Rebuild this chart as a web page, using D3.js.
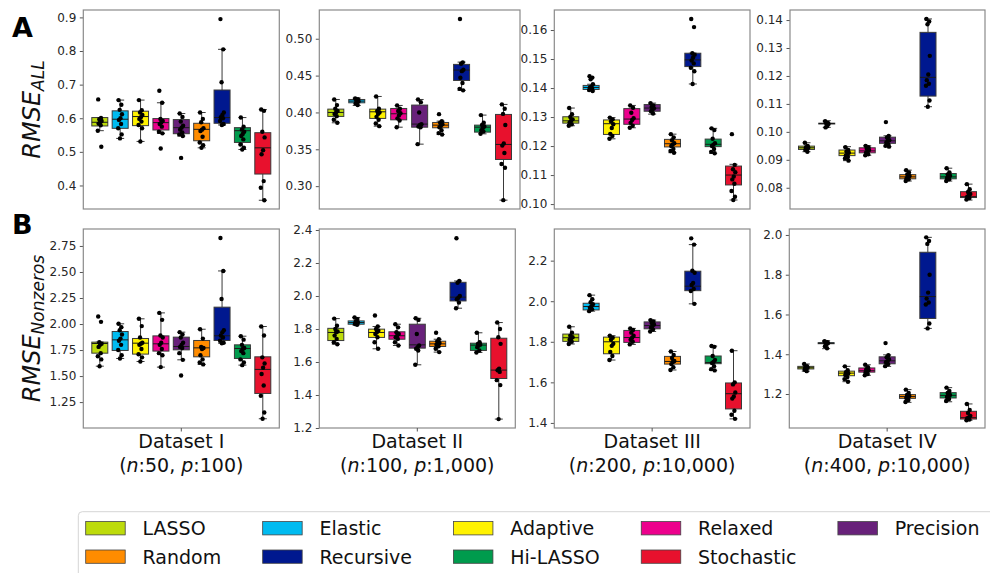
<!DOCTYPE html>
<html><head><meta charset="utf-8">
<script src="https://cdn.jsdelivr.net/npm/d3@7"></script>
<style>body{margin:0;background:#fff;} svg{display:block;font-family:"DejaVu Sans",sans-serif;}</style>
</head><body><svg id="c" width="990" height="573"></svg>
<script>
const methods = ["LASSO","Elastic","Adaptive","Relaxed","Precision","Random","Recursive","Hi-LASSO","Stochastic"];
const colors  = ["#bddb0b","#00bbf0","#fff200","#ec008c","#68217a","#ff8c00","#00188f","#009b4d","#e8112d"];

// box stats per method: [low whisker, q1, median, q3, high whisker]
const boxA1 = [[0.563,0.577,0.588,0.602,0.602],[0.540,0.570,0.597,0.622,0.654],[0.531,0.578,0.605,0.621,0.654],[0.555,0.565,0.587,0.599,0.646],[0.547,0.554,0.572,0.596,0.614],[0.512,0.533,0.567,0.585,0.617],[0.580,0.585,0.602,0.684,0.805],[0.507,0.528,0.563,0.572,0.602],[0.356,0.434,0.512,0.557,0.626]];
const ptsA1 = [[0.656,0.601,0.597,0.592,0.588,0.584,0.579,0.563,0.515],[0.654,0.640,0.625,0.612,0.600,0.595,0.583,0.570,0.552,0.540],[0.654,0.624,0.617,0.610,0.603,0.598,0.590,0.580,0.570,0.531],[0.682,0.646,0.598,0.592,0.587,0.583,0.575,0.560,0.555,0.510],[0.614,0.604,0.590,0.578,0.572,0.566,0.558,0.552,0.547,0.482],[0.617,0.598,0.588,0.570,0.566,0.562,0.545,0.528,0.520,0.512],[0.895,0.805,0.707,0.617,0.610,0.603,0.600,0.592,0.583,0.580],[0.602,0.575,0.566,0.560,0.553,0.547,0.537,0.522,0.512,0.507],[0.626,0.622,0.560,0.543,0.505,0.493,0.413,0.393,0.356]];

const boxA2 = [[0.386,0.3946,0.400,0.4045,0.4176],[0.4095,0.4131,0.4154,0.4176,0.4195],[0.3814,0.3919,0.4009,0.4045,0.4217],[0.380,0.390,0.3982,0.4054,0.4095],[0.357,0.380,0.3842,0.410,0.4176],[0.370,0.3792,0.3828,0.3864,0.3882],[0.430,0.4434,0.4575,0.4652,0.4683],[0.371,0.3733,0.380,0.3828,0.3964],[0.281,0.3362,0.3566,0.3973,0.4109]];
const ptsA2 = [[0.4176,0.410,0.405,0.402,0.400,0.398,0.395,0.390,0.386],[0.419,0.418,0.416,0.415,0.414,0.412,0.410],[0.4217,0.405,0.402,0.400,0.398,0.394,0.390,0.385,0.3814],[0.4095,0.405,0.402,0.399,0.396,0.392,0.389,0.380],[0.4176,0.414,0.400,0.384,0.383,0.381,0.380,0.357],[0.3977,0.388,0.386,0.384,0.382,0.380,0.376,0.372,0.370],[0.5267,0.468,0.466,0.458,0.456,0.447,0.440,0.432,0.430],[0.3964,0.386,0.383,0.381,0.379,0.376,0.374,0.371],[0.4109,0.405,0.398,0.383,0.358,0.355,0.345,0.330,0.325,0.281]];

const boxA3 = [[0.1270,0.1279,0.1287,0.1301,0.1331],[0.1390,0.1395,0.1402,0.1409,0.1413],[0.1225,0.1240,0.1277,0.1290,0.1298],[0.1263,0.1275,0.1293,0.1329,0.1340],[0.1310,0.1320,0.1331,0.1343,0.1348],[0.1177,0.1197,0.1208,0.1223,0.1241],[0.1414,0.1474,0.1497,0.1520,0.1520],[0.1175,0.1198,0.1206,0.1224,0.1261],[0.1014,0.1066,0.1100,0.1131,0.1137]];
const ptsA3 = [[0.1331,0.1310,0.1300,0.1292,0.1287,0.1281,0.1275,0.1270],[0.1441,0.1436,0.1430,0.1413,0.1405,0.1402,0.1398,0.1393,0.1390],[0.1298,0.1292,0.1285,0.1275,0.1262,0.1242,0.1235,0.1225],[0.1340,0.1332,0.1315,0.1296,0.1290,0.1280,0.1270,0.1263],[0.1348,0.1340,0.1335,0.1330,0.1325,0.1320,0.1312],[0.1241,0.1230,0.1220,0.1210,0.1205,0.1200,0.1190,0.1183,0.1177],[0.1638,0.1610,0.1520,0.1515,0.1505,0.1495,0.1485,0.1470,0.1458,0.1414],[0.1261,0.1255,0.1225,0.1210,0.1205,0.1200,0.1190,0.1180,0.1175],[0.1241,0.1135,0.1120,0.1110,0.1095,0.1085,0.1070,0.1045,0.1025,0.1014]];

const boxA4 = [[0.0929,0.0937,0.0943,0.0949,0.0961],[0.1016,0.1029,0.1030,0.1031,0.1040],[0.0897,0.0915,0.0924,0.0935,0.0947],[0.0916,0.0925,0.0932,0.0943,0.0950],[0.0947,0.0959,0.0968,0.0981,0.0986],[0.0824,0.0832,0.0839,0.0847,0.0863],[0.1090,0.1128,0.1195,0.1356,0.1404],[0.0824,0.0832,0.0839,0.0851,0.0870],[0.0756,0.0765,0.0768,0.0786,0.0813]];
const ptsA4 = [[0.0961,0.0950,0.0945,0.0943,0.0940,0.0935,0.0929],[0.1038,0.1032,0.1030,0.1028,0.1020,0.1016],[0.0945,0.0935,0.0930,0.0925,0.0920,0.0915,0.0910,0.0905,0.0897],[0.0950,0.0945,0.0940,0.0935,0.0930,0.0925,0.0920,0.0916],[0.1035,0.0985,0.0980,0.0970,0.0968,0.0962,0.0955,0.0950,0.0947],[0.0863,0.0855,0.0848,0.0842,0.0838,0.0834,0.0830,0.0824],[0.1404,0.1395,0.1385,0.1272,0.1205,0.1185,0.1172,0.1165,0.1112,0.1090],[0.0870,0.0855,0.0848,0.0843,0.0838,0.0835,0.0830,0.0824],[0.0813,0.0795,0.0785,0.0778,0.0772,0.0768,0.0763,0.0758]];

const boxB1 = [[1.595,1.720,1.813,1.826,1.826],[1.669,1.746,1.848,1.928,2.002],[1.640,1.711,1.816,1.861,2.050],[1.586,1.740,1.810,1.886,2.107],[1.656,1.752,1.784,1.874,1.922],[1.612,1.685,1.771,1.842,1.950],[1.816,1.842,1.887,2.162,2.510],[1.605,1.669,1.765,1.800,1.883],[1.090,1.333,1.564,1.685,1.976]];
const ptsB1 = [[2.072,2.021,1.826,1.810,1.800,1.780,1.720,1.690,1.660,1.595],[2.002,1.970,1.940,1.900,1.860,1.840,1.800,1.750,1.700,1.669],[2.050,1.980,1.870,1.820,1.810,1.800,1.760,1.710,1.680,1.640],[2.107,2.040,1.890,1.870,1.820,1.800,1.760,1.720,1.700,1.586],[1.922,1.900,1.870,1.820,1.800,1.780,1.770,1.720,1.656,1.506],[1.950,1.860,1.780,1.770,1.760,1.700,1.660,1.630,1.612],[2.827,2.510,2.240,1.940,1.920,1.890,1.870,1.840,1.820,1.816],[1.883,1.850,1.800,1.770,1.760,1.740,1.720,1.660,1.630,1.605],[1.976,1.890,1.680,1.620,1.580,1.520,1.410,1.310,1.150,1.090]];

const boxB2 = [[1.708,1.730,1.779,1.804,1.863],[1.825,1.829,1.839,1.849,1.870],[1.680,1.749,1.779,1.799,1.815],[1.700,1.738,1.759,1.783,1.829],[1.583,1.684,1.704,1.829,1.865],[1.660,1.694,1.710,1.726,1.738],[1.926,1.970,1.993,2.083,2.091],[1.658,1.670,1.702,1.714,1.777],[1.254,1.500,1.551,1.744,1.839]];
const ptsB2 = [[1.863,1.820,1.800,1.785,1.780,1.760,1.740,1.720,1.708],[1.870,1.860,1.845,1.840,1.835,1.830,1.825],[1.882,1.815,1.800,1.790,1.780,1.770,1.750,1.720,1.680],[1.829,1.810,1.780,1.770,1.760,1.750,1.740,1.720,1.700],[1.865,1.855,1.770,1.700,1.690,1.680,1.670,1.583],[1.777,1.738,1.725,1.715,1.710,1.705,1.695,1.680,1.660],[2.350,2.091,2.080,2.000,1.990,1.980,1.960,1.926],[1.777,1.720,1.710,1.705,1.700,1.690,1.670,1.658],[1.839,1.800,1.750,1.710,1.560,1.550,1.540,1.490,1.460,1.254]];

const boxB3 = [[1.789,1.802,1.820,1.838,1.874],[1.951,1.957,1.974,1.990,2.030],[1.710,1.741,1.800,1.823,1.830],[1.787,1.797,1.821,1.856,1.866],[1.851,1.864,1.880,1.898,1.907],[1.661,1.690,1.703,1.728,1.752],[1.987,2.052,2.074,2.148,2.279],[1.659,1.692,1.698,1.730,1.779],[1.420,1.469,1.544,1.597,1.756]];
const ptsB3 = [[1.874,1.845,1.830,1.822,1.818,1.810,1.800,1.789],[2.030,2.010,1.995,1.985,1.975,1.968,1.960,1.951],[1.830,1.820,1.810,1.790,1.780,1.750,1.730,1.710],[1.866,1.858,1.845,1.830,1.820,1.810,1.800,1.787],[1.907,1.900,1.893,1.885,1.878,1.870,1.860,1.851],[1.752,1.735,1.720,1.705,1.700,1.690,1.675,1.661],[2.310,2.279,2.150,2.140,2.090,2.080,2.060,2.050,1.987],[1.779,1.775,1.730,1.710,1.700,1.695,1.680,1.665,1.659],[1.756,1.600,1.590,1.550,1.530,1.520,1.460,1.440,1.420]];

const boxB4 = [[1.315,1.326,1.332,1.339,1.351],[1.428,1.453,1.456,1.458,1.468],[1.262,1.292,1.305,1.315,1.339],[1.294,1.310,1.317,1.331,1.347],[1.339,1.352,1.367,1.387,1.397],[1.158,1.178,1.187,1.197,1.222],[1.530,1.580,1.690,1.913,1.988],[1.161,1.180,1.193,1.207,1.232],[1.068,1.074,1.081,1.113,1.150]];
const ptsB4 = [[1.351,1.340,1.335,1.332,1.328,1.322,1.315],[1.465,1.460,1.457,1.455,1.450,1.440,1.430],[1.339,1.320,1.310,1.305,1.300,1.295,1.285,1.275,1.262],[1.347,1.335,1.325,1.320,1.315,1.310,1.300,1.294],[1.456,1.395,1.385,1.375,1.365,1.360,1.350,1.340],[1.222,1.205,1.195,1.190,1.185,1.180,1.170,1.160],[1.988,1.970,1.955,1.800,1.710,1.680,1.660,1.650,1.555,1.530],[1.232,1.215,1.205,1.195,1.190,1.185,1.175,1.165],[1.150,1.120,1.105,1.090,1.082,1.078,1.072,1.068]];

// axis limits and tick values
const limA1 = [0.330, 0.922], ticksA1 = [0.4,0.5,0.6,0.7,0.8,0.9];
const limA2 = [0.269, 0.539], ticksA2 = [0.30,0.35,0.40,0.45,0.50];
const limA3 = [0.0983, 0.1669], ticksA3 = [0.10,0.11,0.12,0.13,0.14,0.15,0.16];
const limA4 = [0.0724, 0.1436], ticksA4 = [0.08,0.09,0.10,0.11,0.12,0.13,0.14];
const limB1 = [1.001, 2.913], ticksB1 = [1.25,1.50,1.75,2.00,2.25,2.50,2.75];
const limB2 = [1.200, 2.406], ticksB2 = [1.2,1.4,1.6,1.8,2.0,2.2,2.4];
const limB3 = [1.375, 2.356], ticksB3 = [1.4,1.6,1.8,2.0,2.2];
const limB4 = [1.029, 2.030], ticksB4 = [1.2,1.4,1.6,1.8,2.0];

const datasetNames = ["Dataset I","Dataset II","Dataset III","Dataset IV"];
const datasetN = ["50","100","200","400"];
const datasetP = ["100","1,000","10,000","10,000"];
const rowLetters = ["A","B"];
const rowLabelSub = ["ALL","Nonzeros"];

// ---- layout ----
const svg = d3.select("#c");
const cols = [[83.3,279.3],[319.3,520],[554.3,750],[790,985]];
const colsB = [[83.3,279.3],[319.3,515.3],[554.3,750],[789.3,985]];
const rows = [[10,209],[229,428]];
const panels = [
  {box:boxA1, pts:ptsA1, lim:limA1, ticks:ticksA1, fmt:".1f", c:cols[0], r:0},
  {box:boxA2, pts:ptsA2, lim:limA2, ticks:ticksA2, fmt:".2f", c:cols[1], r:0},
  {box:boxA3, pts:ptsA3, lim:limA3, ticks:ticksA3, fmt:".2f", c:cols[2], r:0},
  {box:boxA4, pts:ptsA4, lim:limA4, ticks:ticksA4, fmt:".2f", c:cols[3], r:0},
  {box:boxB1, pts:ptsB1, lim:limB1, ticks:ticksB1, fmt:".2f", c:colsB[0], r:1},
  {box:boxB2, pts:ptsB2, lim:limB2, ticks:ticksB2, fmt:".1f", c:colsB[1], r:1},
  {box:boxB3, pts:ptsB3, lim:limB3, ticks:ticksB3, fmt:".1f", c:colsB[2], r:1},
  {box:boxB4, pts:ptsB4, lim:limB4, ticks:ticksB4, fmt:".1f", c:colsB[3], r:1}
];
const jit = [-1.6, 1.2, -0.5, 1.8, 0.3, -1.2, 0.9, -2.0, 1.5, -0.2];
const edge = "#3a3a3a";
const bw = 16;

panels.forEach((p, pi) => {
  const [x0, x1] = p.c, [y0, y1] = rows[p.r];
  const x = d3.scalePoint().domain(methods).range([x0 + 16.5, x1 - 16.5]);
  const y = d3.scaleLinear().domain(p.lim).range([y1, y0]);
  const g = svg.append("g");

  const ax = g.append("g").attr("transform", `translate(${x0},0)`)
    .call(d3.axisLeft(y).tickValues(p.ticks).tickFormat(d3.format(p.fmt)).tickSize(3.5).tickPadding(3.5));
  ax.select(".domain").remove();
  ax.selectAll(".tick line").attr("stroke", "#555");
  ax.selectAll(".tick text").attr("fill", "#262626").style("font-size", "12px").style("font-family", "DejaVu Sans");

  methods.forEach((m, i) => {
    const [lo, q1, md, q3, hi] = p.box[i];
    const cx = x(m);
    const bg = g.append("g");
    bg.append("line").attr("x1", cx).attr("x2", cx).attr("y1", y(q3)).attr("y2", y(hi)).attr("stroke", edge).attr("stroke-width", 1);
    bg.append("line").attr("x1", cx).attr("x2", cx).attr("y1", y(q1)).attr("y2", y(lo)).attr("stroke", edge).attr("stroke-width", 1);
    bg.append("line").attr("x1", cx - bw/4).attr("x2", cx + bw/4).attr("y1", y(hi)).attr("y2", y(hi)).attr("stroke", edge).attr("stroke-width", 1);
    bg.append("line").attr("x1", cx - bw/4).attr("x2", cx + bw/4).attr("y1", y(lo)).attr("y2", y(lo)).attr("stroke", edge).attr("stroke-width", 1);
    bg.append("rect").attr("x", cx - bw/2).attr("width", bw)
      .attr("y", y(q3)).attr("height", Math.max(0.8, y(q1) - y(q3)))
      .attr("fill", colors[i]).attr("stroke", edge).attr("stroke-width", 1);
    bg.append("line").attr("x1", cx - bw/2).attr("x2", cx + bw/2).attr("y1", y(md)).attr("y2", y(md)).attr("stroke", "#1a1a1a").attr("stroke-width", 1);
    bg.selectAll("circle").data(p.pts[i]).join("circle")
      .attr("cx", (d, k) => cx + jit[k % jit.length])
      .attr("cy", d => y(d)).attr("r", 2.2).attr("fill", "#000");
  });

  g.append("rect").attr("x", x0).attr("y", y0).attr("width", x1 - x0).attr("height", y1 - y0)
    .attr("fill", "none").attr("stroke", "#8a8a8a").attr("stroke-width", 1.2);

  if (p.r === 1) {
    const cxm = (x0 + x1) / 2;
    const k = pi - 4;
    g.append("line").attr("x1", cxm).attr("x2", cxm).attr("y1", y1).attr("y2", y1 + 3.5).attr("stroke", "#555");
    g.append("text").attr("x", cxm).attr("y", 448).attr("text-anchor", "middle")
      .style("font-size", "19px").attr("fill", "#111").text(datasetNames[k]);
    const t = g.append("text").attr("x", cxm).attr("y", 472).attr("text-anchor", "middle")
      .style("font-size", "19px").attr("fill", "#111");
    t.append("tspan").text("(");
    t.append("tspan").style("font-style", "italic").text("n");
    t.append("tspan").text(":" + datasetN[k] + ", ");
    t.append("tspan").style("font-style", "italic").text("p");
    t.append("tspan").text(":" + datasetP[k] + ")");
  }
});

// row letters and y labels
rows.forEach((r, ri) => {
  svg.append("text").attr("x", 12).attr("y", ri === 0 ? 37 : 234)
    .style("font-size", "27px").style("font-weight", "bold").attr("fill", "#000").text(rowLetters[ri]);
  const cy = (r[0] + r[1]) / 2;
  const t = svg.append("text").attr("transform", `translate(40,${cy}) rotate(-90)`)
    .attr("text-anchor", "middle").style("font-style", "italic").attr("fill", "#111");
  t.append("tspan").style("font-size", "24px").text("RMSE");
  t.append("tspan").style("font-size", "17px").attr("dy", 4).text(rowLabelSub[ri]);
});

// legend
const leg = svg.append("g");
leg.append("rect").attr("x", 78.3).attr("y", 511.7).attr("width", 960).attr("height", 100).attr("rx", 4)
  .attr("fill", "#fff").attr("stroke", "#d5d5d5").attr("stroke-width", 1);
const nCol = 5, rowY = [528.3, 556.7];
let colX = 85.7;
for (let c = 0; c < nCol; c++) {
  let maxW = 0;
  for (let r = 0; r < 2; r++) {
    const idx = r * nCol + c;
    if (idx >= methods.length) continue;
    leg.append("rect").attr("x", colX).attr("y", rowY[r] - 6.7).attr("width", 39.5).attr("height", 13.3)
      .attr("fill", colors[idx]).attr("stroke", "#444").attr("stroke-width", 0.8);
    const tx = leg.append("text").attr("x", colX + 56.8).attr("y", rowY[r] + 6.8)
      .style("font-size", "19px").attr("fill", "#111").text(methods[idx]);
    maxW = Math.max(maxW, tx.node().getComputedTextLength());
  }
  colX += 56.8 + maxW + 41.5;
}
</script></body></html>
